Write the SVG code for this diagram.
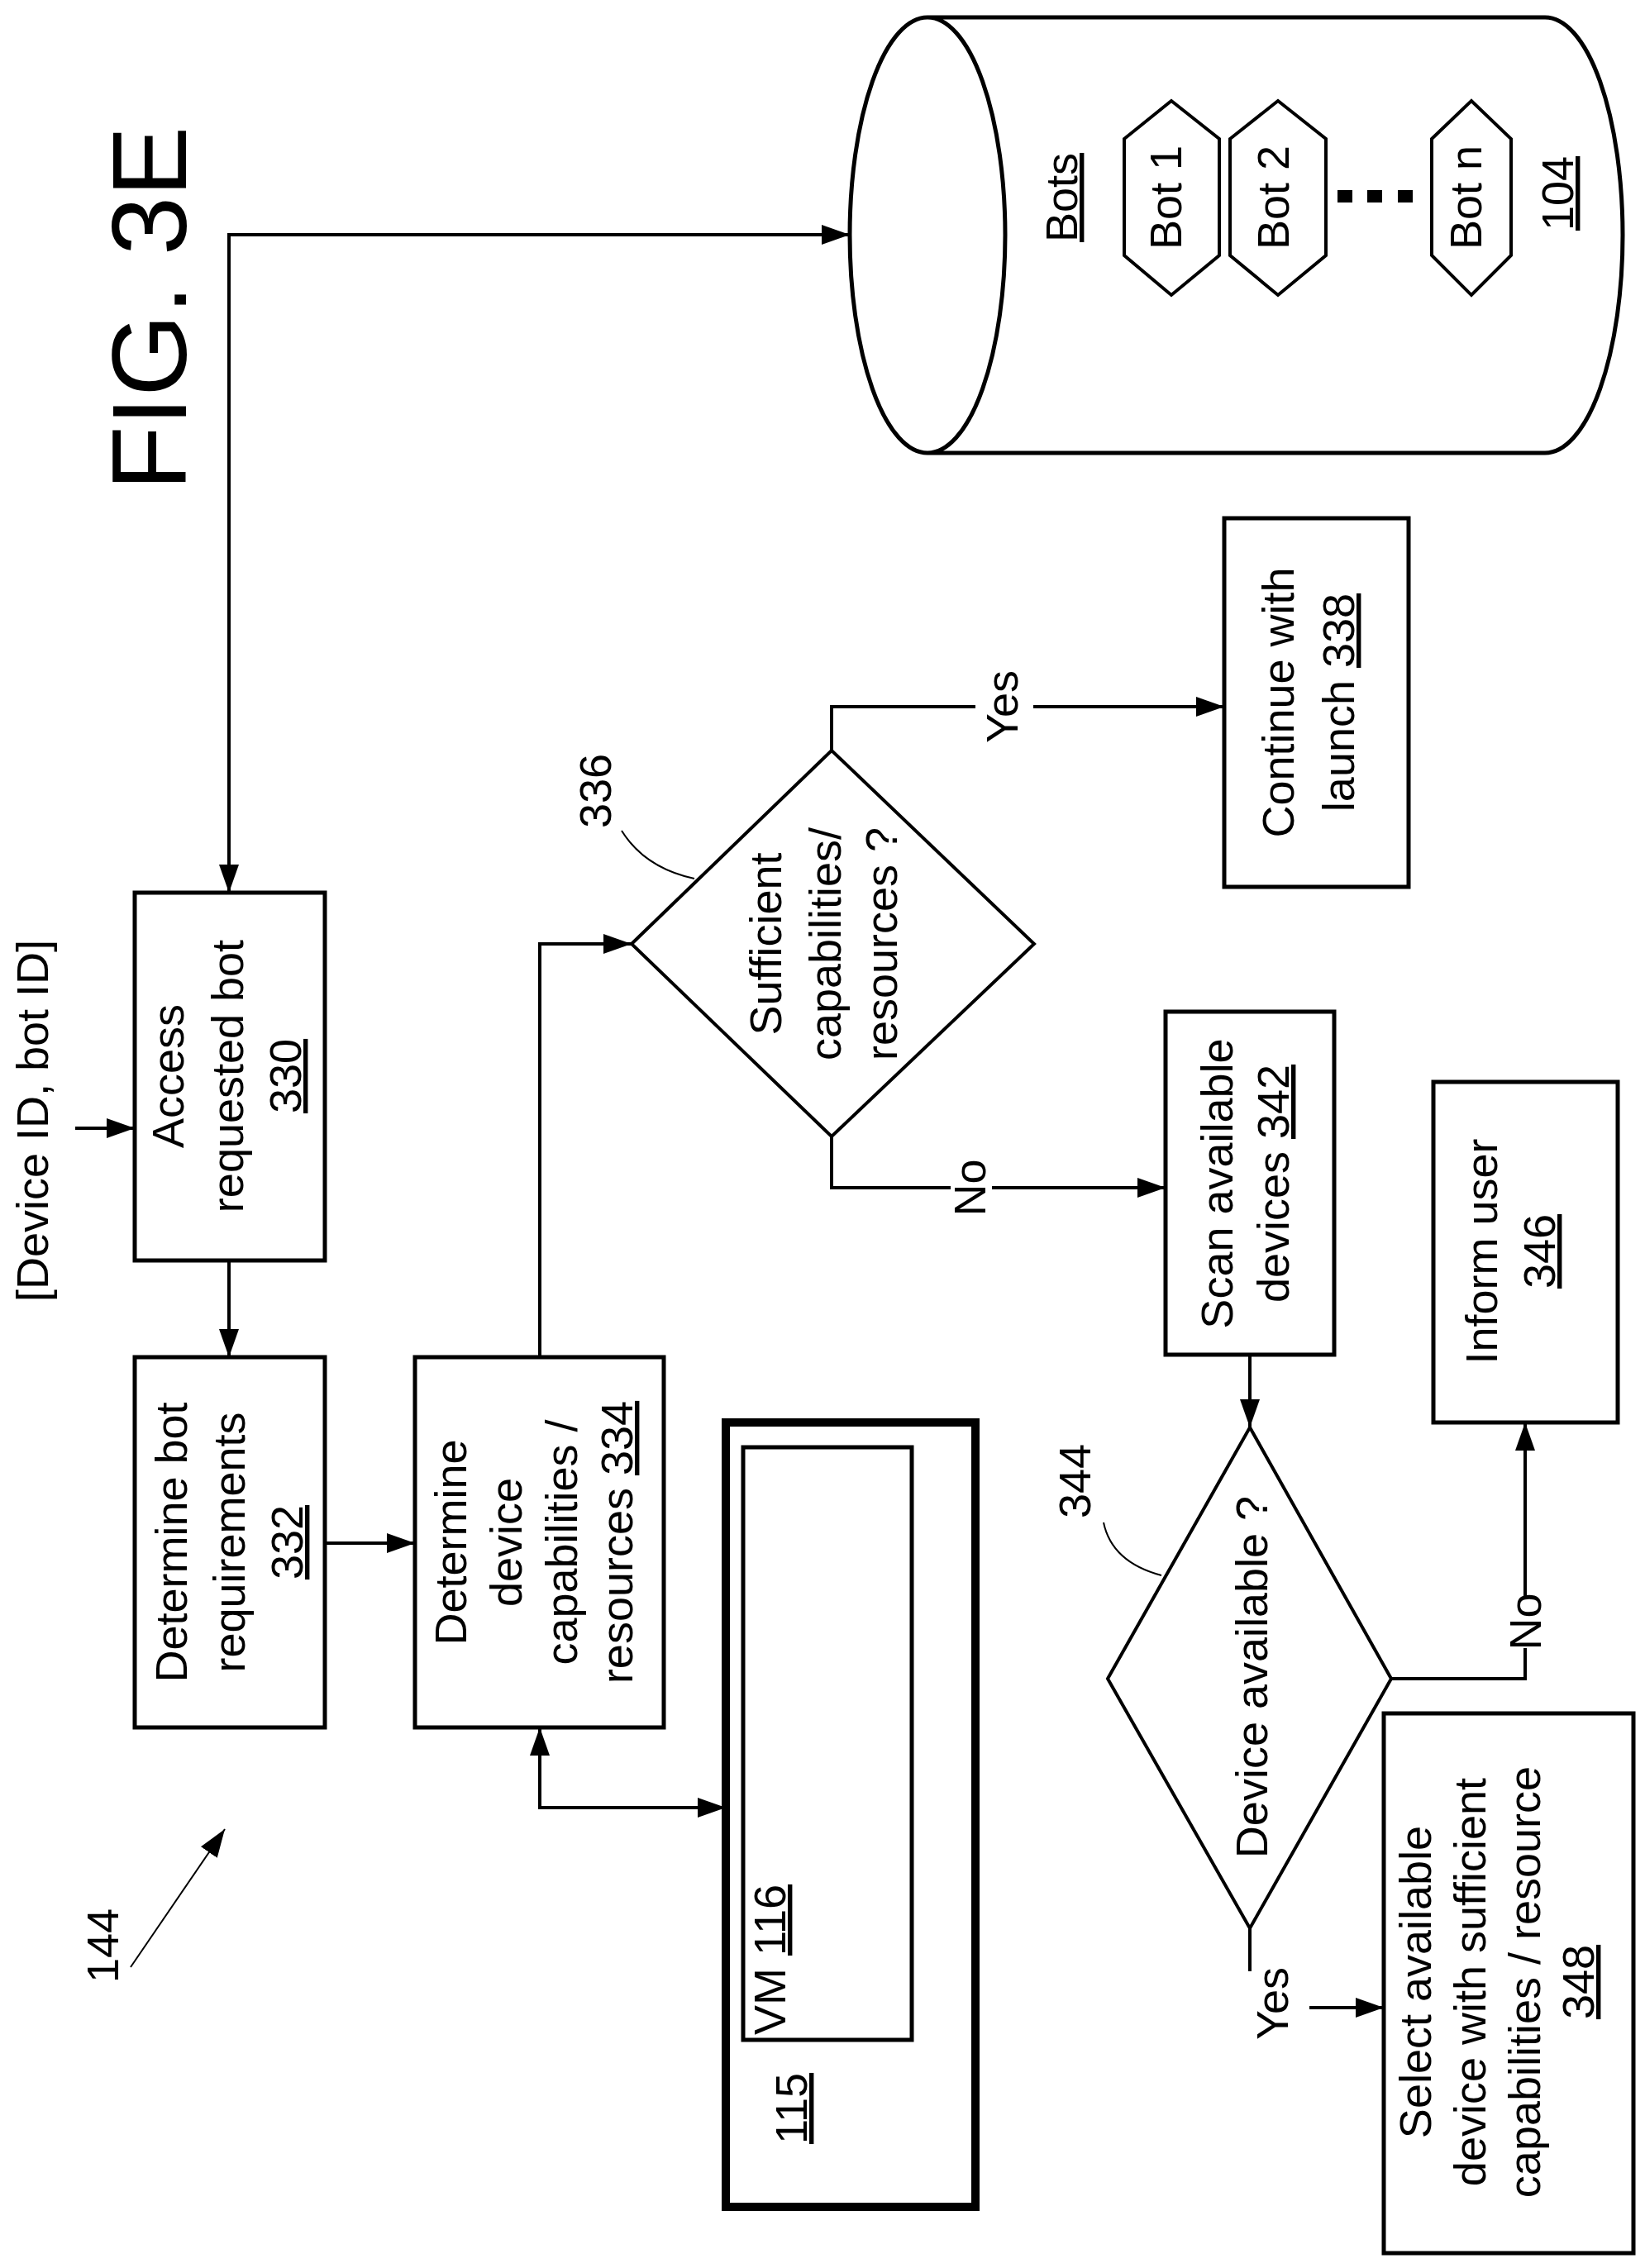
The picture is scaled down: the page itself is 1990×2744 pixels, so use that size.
<svg xmlns="http://www.w3.org/2000/svg" width="1990" height="2744" viewBox="0 0 1990 2744">
<style>
text{font-family:"Liberation Sans",Arial,sans-serif;font-size:54px;fill:#000;text-anchor:middle}
.b{fill:#fff;stroke:#000;stroke-width:5}
.d{fill:#fff;stroke:#000;stroke-width:4}
.c{fill:none;stroke:#000;stroke-width:4}
.t{fill:none;stroke:#000;stroke-width:2}
.u{text-decoration:underline}
</style>
<defs>
<marker id="a" markerUnits="userSpaceOnUse" markerWidth="34" markerHeight="24" refX="34" refY="12" orient="auto-start-reverse"><path d="M0,0 L34,12 L0,24 Z" fill="#000"/></marker>
</defs>
<g id="title"><text transform="translate(225,373) rotate(-90)" style="font-size:128px">FIG. 3E</text></g>
<g id="label144"><text transform="translate(143,2354) rotate(-90)">144</text></g>
<g id="input"><text transform="translate(58,1356) rotate(-90)">[Device ID, bot ID]</text></g>
<g id="connectors">
<path class="c" d="M91,1365 L163,1365" marker-end="url(#a)"/>
<path class="c" d="M277,1525 L277,1642" marker-end="url(#a)"/>
<path class="c" d="M393,1867 L502,1867" marker-end="url(#a)"/>
<path class="c" d="M653,1642 L653,1142 L764,1142" marker-end="url(#a)"/>
<path class="c" d="M277,1080 L277,284 L1028,284" marker-start="url(#a)" marker-end="url(#a)"/>
<path class="c" d="M653,2090 L653,2187 L878,2187" marker-start="url(#a)" marker-end="url(#a)"/>
<path class="c" d="M1006,908 L1006,855 L1180,855"/>
<path class="c" d="M1250,855 L1481,855" marker-end="url(#a)"/>
<path class="c" d="M1006,1375 L1006,1437 L1150,1437"/>
<path class="c" d="M1200,1437 L1410,1437" marker-end="url(#a)"/>
<path class="c" d="M1512,1639 L1512,1727" marker-end="url(#a)"/>
<path class="c" d="M1683,2031 L1845,2031 L1845,1994"/>
<path class="c" d="M1845,1932 L1845,1721" marker-end="url(#a)"/>
<path class="c" d="M1512,2333 L1512,2385"/>
<path class="c" d="M1584,2429 L1674,2429" marker-end="url(#a)"/>
<path class="t" d="M158,2380 L272,2213" marker-end="url(#a)"/>
<path class="t" d="M752,1005 Q780,1050 840,1063"/>
<path class="t" d="M1335,1842 Q1345,1890 1405,1906"/>
<text transform="translate(1231,855) rotate(-90)">Yes</text>
<text transform="translate(1192,1437) rotate(-90)">No</text>
<text transform="translate(1864,1962) rotate(-90)">No</text>
<text transform="translate(1558,2424) rotate(-90)">Yes</text>
</g>
<g id="n330"><rect class="b" x="163" y="1080" width="230" height="445"/>
<text transform="translate(222,1302) rotate(-90)">Access</text>
<text transform="translate(294,1302) rotate(-90)">requested bot</text>
<text transform="translate(364,1302) rotate(-90)"><tspan class="u">330</tspan></text></g>
<g id="n332"><rect class="b" x="163" y="1642" width="230" height="448"/>
<text transform="translate(226,1866) rotate(-90)">Determine bot</text>
<text transform="translate(296,1866) rotate(-90)">requirements</text>
<text transform="translate(366,1866) rotate(-90)"><tspan class="u">332</tspan></text></g>
<g id="n334"><rect class="b" x="502" y="1642" width="301" height="448"/>
<text transform="translate(564,1866) rotate(-90)">Determine</text>
<text transform="translate(631,1866) rotate(-90)">device</text>
<text transform="translate(698,1866) rotate(-90)">capabilities /</text>
<text transform="translate(765,1866) rotate(-90)">resources <tspan class="u">334</tspan></text></g>
<g id="n115"><rect x="878" y="1721" width="302" height="949" fill="#fff" stroke="#000" stroke-width="10"/>
<rect class="b" x="899" y="1751" width="204" height="717" stroke-width="4"/>
<text transform="translate(950,2462) rotate(-90)" style="text-anchor:start">VM <tspan class="u">116</tspan></text>
<text transform="translate(976,2551) rotate(-90)"><tspan class="u">115</tspan></text></g>
<g id="n336"><path class="d" d="M764,1142 L1006,908 L1251,1142 L1006,1375 Z"/>
<text transform="translate(945,1142) rotate(-90)">Sufficient</text>
<text transform="translate(1017,1142) rotate(-90)">capabilities/</text>
<text transform="translate(1085,1142) rotate(-90)">resources ?</text>
<text transform="translate(739,957) rotate(-90)">336</text></g>
<g id="n338"><rect class="b" x="1481" y="627" width="223" height="446"/>
<text transform="translate(1565,850) rotate(-90)">Continue with</text>
<text transform="translate(1638,850) rotate(-90)">launch <tspan class="u">338</tspan></text></g>
<g id="n342"><rect class="b" x="1410" y="1224" width="204" height="415"/>
<text transform="translate(1491,1432) rotate(-90)">Scan available</text>
<text transform="translate(1559,1432) rotate(-90)">devices <tspan class="u">342</tspan></text></g>
<g id="n344"><path class="d" d="M1512,1727 L1683,2031 L1512,2333 L1340,2031 Z"/>
<text transform="translate(1533,2029) rotate(-90)">Device available ?</text>
<text transform="translate(1319,1792) rotate(-90)">344</text></g>
<g id="n346"><rect class="b" x="1734" y="1309" width="223" height="412"/>
<text transform="translate(1811,1514) rotate(-90)">Inform user</text>
<text transform="translate(1881,1514) rotate(-90)"><tspan class="u">346</tspan></text></g>
<g id="n348"><rect class="b" x="1674" y="2073" width="302" height="653"/>
<text transform="translate(1731,2398) rotate(-90)">Select available</text>
<text transform="translate(1797,2398) rotate(-90)">device with sufficient</text>
<text transform="translate(1863,2398) rotate(-90)">capabilities / resource</text>
<text transform="translate(1928,2398) rotate(-90)"><tspan class="u">348</tspan></text></g>
<g id="n104">
<path class="b" d="M1122,21 L1869,21 A94,263.5 0 0 1 1869,548 L1122,548 A94,263.5 0 0 1 1122,21 A94,263.5 0 0 1 1122,548"/>
<text transform="translate(1303,239) rotate(-90)"><tspan class="u">Bots</tspan></text>
<path class="d" d="M1360,168 L1417,122 L1475,168 L1475,309 L1417,357 L1360,309 Z"/>
<text transform="translate(1429,239) rotate(-90)">Bot 1</text>
<path class="d" d="M1488,168 L1546,122 L1604,168 L1604,309 L1546,357 L1488,309 Z"/>
<text transform="translate(1559,239) rotate(-90)">Bot 2</text>
<rect x="1618" y="230" width="18" height="15"/><rect x="1654" y="230" width="18" height="15"/><rect x="1691" y="230" width="18" height="15"/>
<path class="d" d="M1732,168 L1780,122 L1828,168 L1828,309 L1780,357 L1732,309 Z"/>
<text transform="translate(1792,239) rotate(-90)">Bot n</text>
<text transform="translate(1903,234) rotate(-90)"><tspan class="u">104</tspan></text></g>
</svg>
